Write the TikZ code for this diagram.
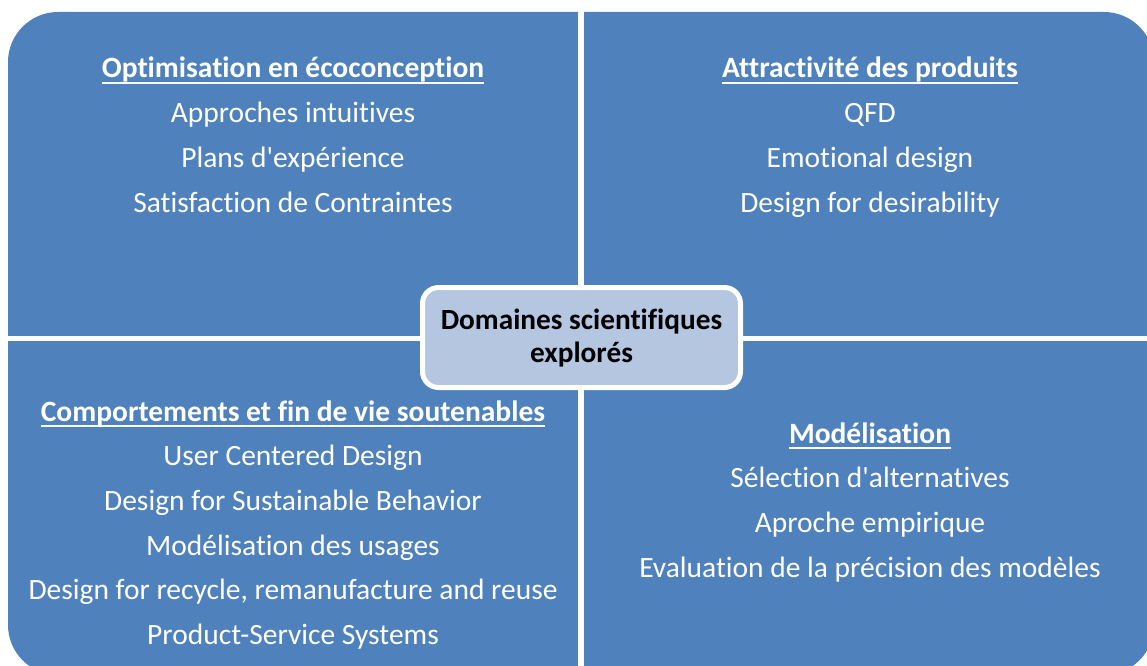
\documentclass[tikz,border=0pt]{standalone}
\usepackage{fontspec}
\setmainfont{Carlito}[Ligatures={NoCommon}]
\definecolor{qblue}{HTML}{4F81BD}
\definecolor{cfill}{HTML}{B5C6E0}
\newcommand{\apos}{\textquotesingle}
\tikzset{
  qtext/.style={anchor=base, inner sep=0pt, text=white, font=\fontsize{29.6}{32}\selectfont},
  qhead/.style={qtext, font=\fontsize{29.6}{32}\selectfont\bfseries},
  uline/.style={white, line width=2bp},
  centerbox/.style={draw=white, line width=5bp, fill=cfill, rounded corners=16bp, minimum width=318bp, minimum height=100bp, inner sep=0pt},
  ctext/.style={anchor=base, inner sep=0pt, text=black, font=\fontsize{29.4}{32}\selectfont\bfseries},
}
\begin{document}
\begin{tikzpicture}[x=1bp,y=-1bp]
\useasboundingbox (0,0) rectangle (1147,666);
\clip (0,0) rectangle (1147,666);
\fill[white] (0,0) rectangle (1147,666);
% quadrants
\fill[qblue, rounded corners=50bp] (8,12) rectangle (1154,675);
\fill[white] (578,0) rectangle (584,680);
\fill[white] (0,336) rectangle (1160,341);
% top left
\node[qhead] (tlh) at (293,78) {Optimisation en écoconception};
\draw[uline] ([yshift=-5bp]tlh.base west) -- ([yshift=-5bp]tlh.base east);
\node[qtext] (tl1) at (293,123) {Approches intuitives};
\node[qtext] (tl2) at (293,168) {Plans d\apos expérience};
\node[qtext] (tl3) at (293,213) {Satisfaction de Contraintes};
% top right
\node[qhead] (trh) at (870,78) {Attractivité des produits};
\draw[uline] ([yshift=-5bp]trh.base west) -- ([yshift=-5bp]trh.base east);
\node[qtext] (tr1) at (870,123) {QFD};
\node[qtext] (tr2) at (870,168) {Emotional design};
\node[qtext] (tr3) at (870,213) {Design for desirability};
% bottom left
\node[qhead] (blh) at (293,421) {Comportements et fin de vie soutenables};
\draw[uline] ([yshift=-5bp]blh.base west) -- ([yshift=-5bp]blh.base east);
\node[qtext] (bl1) at (293,465) {User Centered Design};
\node[qtext] (bl2) at (293,510) {Design for Sustainable Behavior};
\node[qtext] (bl3) at (293,555) {Modélisation des usages};
\node[qtext] (bl4) at (293,599) {Design for recycle, remanufacture and reuse};
\node[qtext] (bl5) at (293,644) {Product-Service Systems};
% bottom right
\node[qhead] (brh) at (870,443) {Modélisation};
\draw[uline] ([yshift=-5bp]brh.base west) -- ([yshift=-5bp]brh.base east);
\node[qtext] (br1) at (870,487) {Sélection d\apos alternatives};
\node[qtext] (br2) at (870,532) {Aproche empirique};
\node[qtext] (br3) at (870,577) {Evaluation de la précision des modèles};
% center
\node[centerbox] (box) at (581.5,337.5) {};
\node[ctext] (c1) at (581.5,329.5) {Domaines scientifiques};
\node[ctext] (c2) at (581.5,362) {explorés};
\end{tikzpicture}
\end{document}
